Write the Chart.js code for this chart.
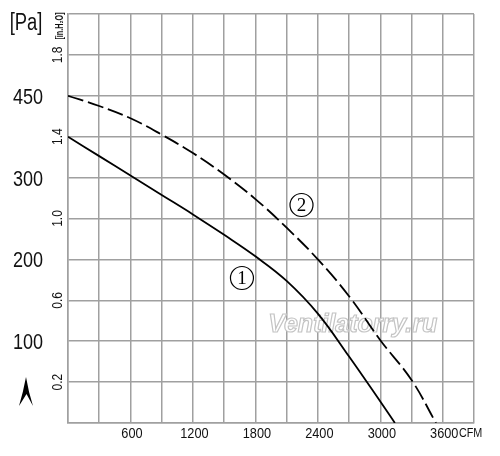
<!DOCTYPE html>
<html>
<head>
<meta charset="utf-8">
<script src="https://cdn.jsdelivr.net/npm/chart.js@4.4.1/dist/chart.umd.min.js"></script>
<style>
html,body{margin:0;padding:0;background:#fff;}
#wrap{width:500px;height:456px;}
</style>
</head>
<body>
<div id="wrap"><canvas id="c" width="500" height="456"></canvas></div>
<script>
// ---- data ----
const curve1Cfm = [0, 300, 600, 900, 1200, 1500, 1800, 2100, 2400, 2700, 3000, 3140];
const curve1InH2O = [1.40, 1.305, 1.21, 1.115, 1.02, 0.92, 0.815, 0.695, 0.535, 0.325, 0.105, 0];
const curve2Cfm = [0, 300, 600, 900, 1200, 1500, 1800, 2100, 2400, 2700, 3000, 3300, 3535];
const curve2InH2O = [1.60, 1.55, 1.49, 1.41, 1.32, 1.215, 1.095, 0.955, 0.80, 0.62, 0.405, 0.21, 0];
const xTickValues = [600, 1200, 1800, 2400, 3000, 3600];
const xTickLabels = ['600', '1200', '1800', '2400', '3000', '3600'];
const xUnit = 'CFM';
const inTickValues = [1.8, 1.4, 1.0, 0.6, 0.2];
const inTickLabels = ['1.8', '1.4', '1.0', '0.6', '0.2'];
const inUnit = '[in.H₂O]';
const paTickValues = [1.6, 1.2, 0.8, 0.4];
const paTickLabels = ['450', '300', '200', '100'];
const paUnit = '[Pa]';
const curveTags = [{x: 1671, y: 0.709, t: '1'}, {x: 2243, y: 1.066, t: '2'}];
const watermark = 'Ventilatorry.ru';

const GRID = '#a0a0a0';
const SANS = '"Liberation Sans", "DejaVu Sans", Arial, sans-serif';

function txt(ctx, s, x, y, size, sx, align, base, rot, weight) {
  ctx.save();
  ctx.translate(x, y);
  if (rot) ctx.rotate(rot);
  ctx.scale(sx, 1);
  ctx.font = (weight || 'normal') + ' ' + size + 'px ' + SANS;
  ctx.textAlign = align;
  ctx.textBaseline = base;
  ctx.fillStyle = '#111';
  ctx.fillText(s, 0, 0);
  const w = ctx.measureText(s).width * sx;
  ctx.restore();
  return w;
}

const decor = {
  id: 'decor',
  beforeDatasetsDraw(chart) {
    const ctx = chart.ctx, xs = chart.scales.x, ys = chart.scales.y;
    // watermark
    ctx.save();
    ctx.font = 'italic bold 25px ' + SANS;
    ctx.textAlign = 'center';
    ctx.textBaseline = 'middle';
    ctx.lineWidth = 1.2;
    ctx.strokeStyle = '#c4c4c4';
    ctx.fillStyle = '#ffffff';
    const wx = xs.getPixelForValue(2735), wy = ys.getPixelForValue(0.48);
    ctx.fillText(watermark, wx, wy);
    ctx.strokeText(watermark, wx, wy);
    ctx.restore();
  },
  afterDraw(chart) {
    const ctx = chart.ctx, xs = chart.scales.x, ys = chart.scales.y;
    const left = chart.chartArea.left, bottom = chart.chartArea.bottom;
    // x tick labels
    let lastX = 0, lastW = 0;
    xTickValues.forEach((v, i) => {
      const px = xs.getPixelForValue(v) + 1.5;
      lastW = txt(ctx, xTickLabels[i], px, bottom + 15, 15, 0.85, 'center', 'alphabetic');
      lastX = px;
    });
    txt(ctx, xUnit, lastX + lastW / 2 + 0.5, bottom + 14, 12, 0.9, 'left', 'alphabetic');
    // inH2O rotated labels
    inTickValues.forEach((v, i) => {
      txt(ctx, inTickLabels[i], left - 10, ys.getPixelForValue(v), 15, 0.8, 'center', 'middle', -Math.PI / 2);
    });
    txt(ctx, inUnit, left - 8, 26, 10, 0.72, 'center', 'middle', -Math.PI / 2, 'bold');
    // Pa labels
    paTickValues.forEach((v, i) => {
      txt(ctx, paTickLabels[i], 28, ys.getPixelForValue(v) + 2, 22, 0.82, 'center', 'middle');
    });
    txt(ctx, paUnit, 26, 24, 23, 0.8, 'center', 'middle');
    // arrow mark
    ctx.save();
    ctx.fillStyle = '#000';
    ctx.beginPath();
    ctx.moveTo(26, 377);
    ctx.quadraticCurveTo(23, 393, 19, 406);
    ctx.lineTo(26.5, 394);
    ctx.lineTo(33, 406);
    ctx.quadraticCurveTo(28.5, 392, 26, 377);
    ctx.closePath();
    ctx.fill();
    ctx.restore();
    // circled curve tags
    curveTags.forEach(tg => {
      const px = xs.getPixelForValue(tg.x), py = ys.getPixelForValue(tg.y);
      ctx.save();
      ctx.beginPath();
      ctx.arc(px, py, 11.5, 0, Math.PI * 2);
      ctx.lineWidth = 1.2;
      ctx.strokeStyle = '#000';
      ctx.stroke();
      ctx.font = '19px "Liberation Serif", "DejaVu Serif", serif';
      ctx.textAlign = 'center';
      ctx.textBaseline = 'middle';
      ctx.fillStyle = '#000';
      ctx.fillText(tg.t, px, py + 1);
      ctx.restore();
    });
  }
};

new Chart(document.getElementById('c'), {
  type: 'line',
  data: {
    datasets: [
      {
        data: curve1Cfm.map((x, i) => ({x, y: curve1InH2O[i]})),
        borderColor: '#000', borderWidth: 1.8, pointRadius: 0,
        tension: 0.4, fill: false
      },
      {
        data: curve2Cfm.map((x, i) => ({x, y: curve2InH2O[i]})),
        borderColor: '#000', borderWidth: 1.8, pointRadius: 0, borderDash: [16, 5],
        tension: 0.4, fill: false
      }
    ]
  },
  options: {
    responsive: false,
    animation: false,
    devicePixelRatio: 1,
    layout: {padding: {left: 68, right: 26, top: 14, bottom: 33}},
    plugins: {legend: {display: false}, tooltip: {enabled: false}},
    scales: {
      x: {
        type: 'linear', min: 0, max: 3900,
        ticks: {display: false, stepSize: 300},
        grid: {color: GRID, lineWidth: 1.5, drawTicks: false},
        border: {color: GRID, width: 1.5}
      },
      y: {
        type: 'linear', min: 0, max: 2.0,
        ticks: {display: false, stepSize: 0.2},
        grid: {color: GRID, lineWidth: 1.5, drawTicks: false},
        border: {color: GRID, width: 1.5}
      }
    }
  },
  plugins: [decor]
});
</script>
</body>
</html>
